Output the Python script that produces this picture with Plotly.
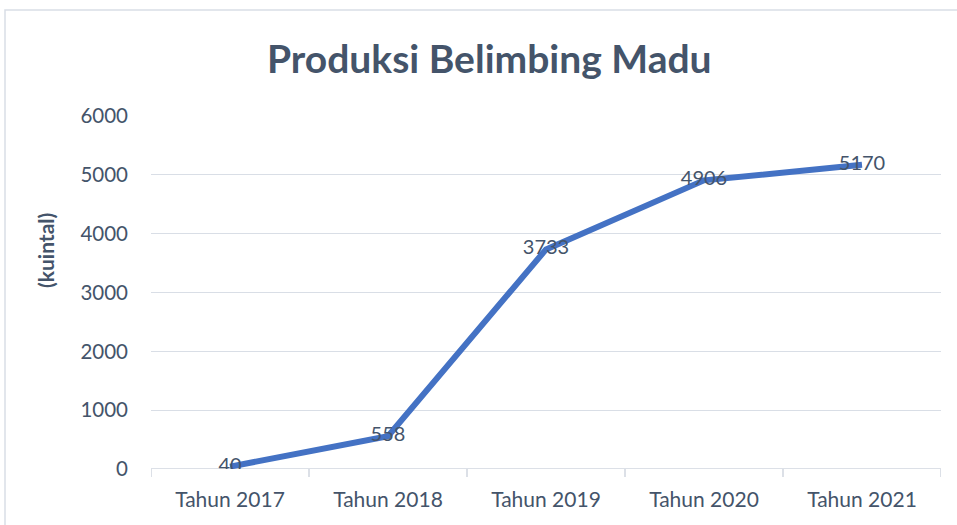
import plotly.graph_objects as go

categories = ["Tahun 2017", "Tahun 2018", "Tahun 2019", "Tahun 2020", "Tahun 2021"]
values = [40, 558, 3733, 4906, 5170]
y_ticks = [0, 1000, 2000, 3000, 4000, 5000, 6000]

W, H = 957, 525
L, R, T, B = 151, 16, 116, 56
text_color = "#44546A"
font_family = "Lato, 'Open Sans', sans-serif"

fig = go.Figure()
fig.add_trace(go.Scatter(
    x=list(range(len(categories))), y=values,
    mode="lines+text",
    text=[str(v) for v in values],
    textposition="middle center",
    textfont=dict(family=font_family, size=20, color=text_color),
    line=dict(color="#4472C4", width=6),
    hoverinfo="skip",
))

fig.update_layout(
    width=W, height=H,
    margin=dict(l=L, r=R, t=T, b=B),
    paper_bgcolor="white", plot_bgcolor="white",
    showlegend=False,
    font=dict(family=font_family, color=text_color),
    xaxis=dict(
        range=[-0.5, len(categories) - 0.5],
        tickmode="array",
        tickvals=list(range(len(categories))),
        ticktext=categories,
        tickfont=dict(size=21, color=text_color),
        showgrid=False, zeroline=False,
        showline=False,
        ticks="",
        ticklabelstandoff=16,
        fixedrange=True,
    ),
    yaxis=dict(
        range=[0, 6000],
        tickmode="array", tickvals=y_ticks,
        tickfont=dict(size=20.5, color=text_color),
        showgrid=True, gridcolor="#D9DEE6", gridwidth=1,
        zeroline=False, showline=False,
        ticks="", ticklen=0,
        ticklabelstandoff=22,
        fixedrange=True,
    ),
    shapes=[
        # chart border
        dict(type="rect", xref="paper", yref="paper",
             x0=(5 - L) / (W - L - R), x1=(W + 5 - L) / (W - L - R),
             y0=-(B + 10) / (H - T - B), y1=1 + (T - 10) / (H - T - B),
             line=dict(color="#D9DEE6", width=1.5), layer="below"),
        # x axis line
        dict(type="line", xref="paper", yref="y", x0=0, x1=1, y0=0, y1=0,
             line=dict(color="#D0D6DF", width=1.5), layer="below"),
    ] + [
        dict(type="line", xref="x", yref="paper", x0=i - 0.5, x1=i - 0.5,
             y0=0, y1=-8 / (H - T - B),
             line=dict(color="#D0D6DF", width=1.5), layer="below")
        for i in range(len(categories) + 1)
    ],
    annotations=[
        dict(text="<b>Produksi Belimbing Madu</b>", xref="paper", yref="paper",
             x=(489 - L) / (W - L - R), y=1 + (T - 58) / (H - T - B),
             xanchor="center", yanchor="middle", showarrow=False,
             font=dict(size=39, color=text_color, family=font_family)),
        dict(text="<b>(kuintal)</b>", xref="paper", yref="paper",
             x=(45 - L) / (W - L - R), y=(469 - 251) / (H - T - B),
             xanchor="center", yanchor="middle", showarrow=False, textangle=-90,
             font=dict(size=21, color=text_color, family=font_family)),
    ],
)

fig.write_html("out.html")
